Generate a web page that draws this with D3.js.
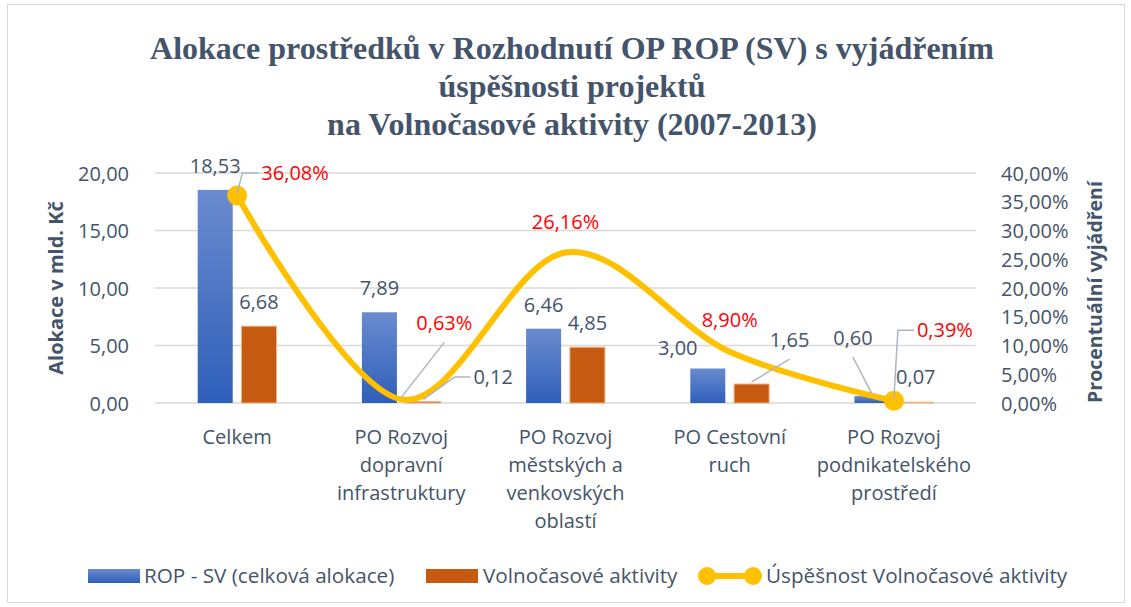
<!DOCTYPE html>
<html>
<head>
<meta charset="UTF-8">
<title>Alokace prostředků ROP SV</title>
<script src="https://d3js.org/d3.v7.min.js"></script>
<style>
    body { margin: 0; background: #fff; }
    svg text { font-family: "Open Sans", "Noto Sans", sans-serif; }
</style>
</head>
<body>
<svg id="chart" width="1131" height="607"></svg>
<script>
// data
var categories = [
    ["Celkem"],
    ["PO Rozvoj", "dopravní", "infrastruktury"],
    ["PO Rozvoj", "městských a", "venkovských", "oblastí"],
    ["PO Cestovní", "ruch"],
    ["PO Rozvoj", "podnikatelského", "prostředí"]
];
var ropTotal = [18.53, 7.89, 6.46, 3.00, 0.60];
var leisure = [6.68, 0.12, 4.85, 1.65, 0.07];
var success = [0.3608, 0.0063, 0.2616, 0.0890, 0.0039];
var leftTicks = [0, 5, 10, 15, 20];
var rightTicks = [0, 0.05, 0.10, 0.15, 0.20, 0.25, 0.30, 0.35, 0.40];
var seriesNames = ["ROP - SV (celková alokace)", "Volnočasové aktivity", "Úspěšnost Volnočasové aktivity"];

// label nudges (px) and leader line type, like in the excel chart
var ropLabelMove = [[0, 0], [0, 0], [0, 0], [-30, 3], [-19, -34]];
var ropLeader = [null, null, null, null, "bottom"];
var leisureLabelMove = [[0, 0], [70, -1], [0, 0], [38, -20], [0, -1]];
var leisureLeader = [null, "side", null, "bottom", null];
var successLabelMove = [[58, 1], [43, -52], [0, -7], [0, -8], [51, -47]];
var successLeader = ["side", "bottom", null, null, "side"];

var svg = d3.select("#chart");
var textColor = "#44546A";
var orange = "#C55A11", gold = "#FFC000";
var fs = "20px";

// chart border
svg.append("rect").attr("x", 7.5).attr("y", 4.5).attr("width", 1117).attr("height", 598)
    .attr("fill", "#fff").attr("stroke", "#d9d9d9");

// title
var title = ["Alokace prostředků v Rozhodnutí OP ROP (SV) s vyjádřením",
    "úspěšnosti projektů", "na Volnočasové aktivity (2007-2013)"];
svg.append("text").attr("x", 572).attr("y", 59)
    .attr("text-anchor", "middle")
    .style("font-family", "'Liberation Serif', 'Times New Roman', serif")
    .style("font-weight", "bold").style("font-size", "32px").attr("fill", textColor)
    .selectAll("tspan").data(title).enter().append("tspan")
    .attr("x", 572).attr("dy", function (d, i) { return i === 0 ? 0 : 38; })
    .text(function (d) { return d; });

var plotLeft = 155, plotRight = 976, plotTop = 173, plotBottom = 403;

var x0 = d3.scaleBand().domain(d3.range(categories.length))
    .range([plotLeft, plotRight]).paddingInner(0.52).paddingOuter(0.26);
var x1 = d3.scaleBand().domain([0, 1]).range([0, x0.bandwidth()]).paddingInner(0.2);
var y = d3.scaleLinear().domain([0, 20]).range([plotBottom, plotTop]);
var y2 = d3.scaleLinear().domain([0, 0.4]).range([plotBottom, plotTop]);
var cx = function (i) { return x0(i) + x0.bandwidth() / 2; };

var numFmt = function (v) { return d3.format(".2f")(v).replace(".", ","); };
var pctFmt = function (v) { return d3.format(".2f")(v * 100).replace(".", ",") + "%"; };

// gridlines
svg.append("g").selectAll("line").data(leftTicks).enter().append("line")
    .attr("x1", plotLeft).attr("x2", plotRight)
    .attr("y1", function (d) { return y(d); }).attr("y2", function (d) { return y(d); })
    .attr("stroke", "#d9d9d9").attr("stroke-width", 1.5);

// left axis
var yAxis = svg.append("g").attr("transform", "translate(" + (plotLeft - 23) + ",0)")
    .call(d3.axisLeft(y).tickValues(leftTicks).tickFormat(numFmt).tickSize(0));
yAxis.select(".domain").remove();
yAxis.selectAll("text").attr("fill", textColor).style("font-size", fs).attr("dy", "0.36em");

// right axis
var y2Axis = svg.append("g").attr("transform", "translate(" + (plotRight + 22) + ",0)")
    .call(d3.axisRight(y2).tickValues(rightTicks).tickFormat(pctFmt).tickSize(0));
y2Axis.select(".domain").remove();
y2Axis.selectAll("text").attr("fill", textColor).style("font-size", fs).attr("dy", "0.36em");

// axis titles
svg.append("text").attr("transform", "translate(63," + ((plotTop + plotBottom) / 2) + ") rotate(-90)")
    .attr("text-anchor", "middle").attr("fill", textColor)
    .style("font-size", "20px").style("font-weight", "bold").text("Alokace v mld. Kč");
svg.append("text").attr("transform", "translate(1102," + ((plotTop + plotBottom) / 2 + 4) + ") rotate(-90)")
    .attr("text-anchor", "middle").attr("fill", textColor)
    .style("font-size", "19.5px").style("font-weight", "bold").text("Procentuální vyjádření");

// category labels
svg.append("g").selectAll("text").data(categories).enter().append("text")
    .attr("text-anchor", "middle").attr("fill", textColor).style("font-size", fs)
    .attr("y", 444)
    .each(function (lines, i) {
        d3.select(this).selectAll("tspan").data(lines).enter().append("tspan")
            .attr("x", cx(i)).attr("dy", function (d, j) { return j === 0 ? 0 : 28; })
            .text(function (d) { return d; });
    });

// bar gradient
var defs = svg.append("defs");
var grad = defs.append("linearGradient").attr("id", "blueGrad")
    .attr("x1", 0).attr("y1", 0).attr("x2", 0).attr("y2", 1);
grad.append("stop").attr("offset", "0%").attr("stop-color", "#6A8BCF");
grad.append("stop").attr("offset", "100%").attr("stop-color", "#2F5FB9");

var barsG = svg.append("g");
barsG.selectAll(".rop").data(ropTotal).enter().append("rect")
    .attr("x", function (d, i) { return x0(i) + x1(0); })
    .attr("y", function (d) { return y(d); })
    .attr("width", x1.bandwidth())
    .attr("height", function (d) { return plotBottom - y(d); })
    .attr("fill", "url(#blueGrad)");
barsG.selectAll(".leis").data(leisure).enter().append("rect")
    .attr("x", function (d, i) { return x0(i) + x1(1); })
    .attr("y", function (d) { return y(d); })
    .attr("width", x1.bandwidth())
    .attr("height", function (d) { return plotBottom - y(d); })
    .attr("fill", orange).attr("stroke", "#F4B183").attr("stroke-width", 1);

// smoothed line
var pts = success.map(function (d, i) { return [cx(i), y2(d)]; });
svg.append("path").datum(pts)
    .attr("d", d3.line().curve(d3.curveCardinal.tension(0)))
    .attr("fill", "none").attr("stroke", gold).attr("stroke-width", 6);
svg.append("g").selectAll("circle").data([0, pts.length - 1]).enter().append("circle")
    .attr("cx", function (i) { return pts[i][0]; }).attr("cy", function (i) { return pts[i][1]; })
    .attr("r", 10).attr("fill", gold);

// data labels with leader lines
var labelsG = svg.append("g");
function addLabel(ax, ay, move, txt, color, leader) {
    var t = labelsG.append("text").attr("x", ax + move[0]).attr("y", ay - 17 + move[1])
        .attr("text-anchor", "middle").attr("fill", color).style("font-size", fs).text(txt);
    if (!leader) return;
    var b = t.node().getBBox();
    var midY = b.y + b.height / 2 + 1;
    var d;
    if (leader === "side") {
        var s = move[0] > 0 ? 1 : -1;
        var edge = s > 0 ? b.x : b.x + b.width;
        d = "M" + ax + "," + (ay - 2) + "L" + (edge - 19 * s) + "," + midY + "L" + (edge - 3 * s) + "," + midY;
    } else {
        d = "M" + ax + "," + (ay - 2) + "L" + (b.x + b.width / 2) + "," + (b.y + b.height + 6);
    }
    labelsG.insert("path", "text").attr("d", d).attr("fill", "none")
        .attr("stroke", "#AEB6C2").attr("stroke-width", 1.5);
}
ropTotal.forEach(function (d, i) {
    addLabel(x0(i) + x1(0) + x1.bandwidth() / 2, y(d), ropLabelMove[i], numFmt(d), textColor, ropLeader[i]);
});
leisure.forEach(function (d, i) {
    addLabel(x0(i) + x1(1) + x1.bandwidth() / 2, y(d), leisureLabelMove[i], numFmt(d), textColor, leisureLeader[i]);
});
success.forEach(function (d, i) {
    addLabel(cx(i), y2(d), successLabelMove[i], pctFmt(d), "#FF0000", successLeader[i]);
});

// legend
var lfs = "20.7px";
var lg = svg.append("g").attr("transform", "translate(0,576)");
lg.append("rect").attr("x", 88).attr("y", -7).attr("width", 52).attr("height", 14).attr("fill", "url(#blueGrad)");
lg.append("text").attr("x", 144).attr("y", 7).attr("fill", textColor).style("font-size", lfs).text(seriesNames[0]);
lg.append("rect").attr("x", 426).attr("y", -7).attr("width", 52).attr("height", 14).attr("fill", orange);
lg.append("text").attr("x", 483).attr("y", 7).attr("fill", textColor).style("font-size", lfs).text(seriesNames[1]);
lg.append("line").attr("x1", 707).attr("x2", 753).attr("y1", 0).attr("y2", 0)
    .attr("stroke", gold).attr("stroke-width", 6);
lg.selectAll("circle").data([707, 753]).enter().append("circle")
    .attr("cx", function (d) { return d; }).attr("cy", 0).attr("r", 9).attr("fill", gold);
lg.append("text").attr("x", 766).attr("y", 7).attr("fill", textColor).style("font-size", lfs).text(seriesNames[2]);
</script>
</body>
</html>
